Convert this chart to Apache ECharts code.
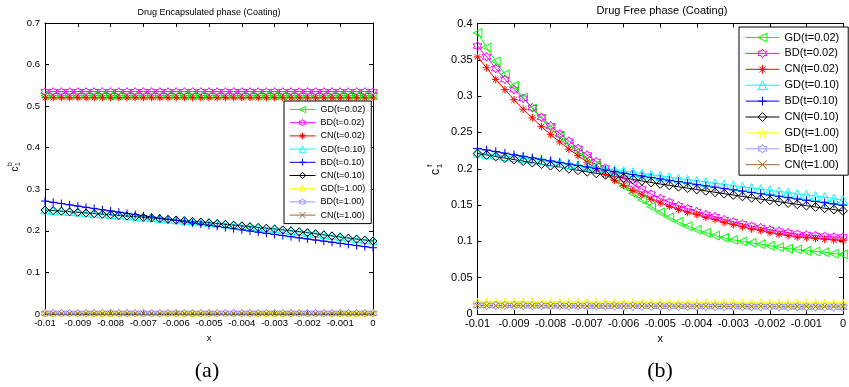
<!DOCTYPE html>
<html><head><meta charset="utf-8">
<script src="https://cdn.jsdelivr.net/npm/echarts@6/dist/echarts.min.js"></script>
<style>html,body{margin:0;padding:0;background:#fff}#c{width:849px;height:387px}</style>
</head><body><div id="c"></div>
<script>
// ---------- data ----------
const xs = [-0.01,-0.00975,-0.0095,-0.00925,-0.009,-0.00875,-0.0085,-0.00825,-0.008,-0.00775,-0.0075,-0.00725,-0.007,-0.00675,-0.0065,-0.00625,-0.006,-0.00575,-0.0055,-0.00525,-0.005,-0.00475,-0.0045,-0.00425,-0.004,-0.00375,-0.0035,-0.00325,-0.003,-0.00275,-0.0025,-0.00225,-0.002,-0.00175,-0.0015,-0.00125,-0.001,-0.00075,-0.0005,-0.00025,0];
const seriesNames = ['GD(t=0.02)','BD(t=0.02)','CN(t=0.02)','GD(t=0.10)','BD(t=0.10)','CN(t=0.10)','GD(t=1.00)','BD(t=1.00)','CN(t=1.00)'];

// (a) Drug Encapsulated phase
const encGD002 = [0.525,0.525,0.525,0.525,0.525,0.525,0.525,0.525,0.525,0.525,0.525,0.525,0.525,0.525,0.525,0.525,0.525,0.525,0.525,0.525,0.525,0.525,0.525,0.525,0.525,0.525,0.525,0.525,0.525,0.525,0.525,0.525,0.525,0.525,0.525,0.525,0.525,0.525,0.525,0.525,0.525];
const encBD002 = [0.535,0.535,0.535,0.535,0.535,0.535,0.535,0.535,0.535,0.535,0.535,0.535,0.535,0.535,0.535,0.535,0.535,0.535,0.535,0.535,0.535,0.535,0.535,0.535,0.535,0.535,0.535,0.535,0.535,0.535,0.535,0.535,0.535,0.535,0.535,0.535,0.535,0.535,0.535,0.535,0.535];
const encCN002 = [0.52,0.52,0.52,0.52,0.52,0.52,0.52,0.52,0.52,0.52,0.52,0.52,0.52,0.52,0.52,0.52,0.52,0.52,0.52,0.52,0.52,0.52,0.52,0.52,0.52,0.52,0.52,0.52,0.52,0.52,0.52,0.52,0.52,0.52,0.52,0.52,0.52,0.52,0.52,0.52,0.52];
const encGD010 = [0.2505,0.2493,0.2479,0.2466,0.2452,0.2437,0.2422,0.2407,0.2392,0.2377,0.2362,0.2347,0.2332,0.2316,0.2300,0.2284,0.2268,0.2252,0.2236,0.2220,0.2203,0.2185,0.2166,0.2147,0.2128,0.2109,0.2090,0.2072,0.2053,0.2031,0.2009,0.1987,0.1964,0.1939,0.1913,0.1887,0.1861,0.1836,0.1812,0.1789,0.1765];
const encBD010 = [0.2716,0.2686,0.2657,0.2626,0.2597,0.2567,0.2538,0.2508,0.2479,0.2450,0.2421,0.2392,0.2363,0.2334,0.2305,0.2277,0.2248,0.2220,0.2191,0.2163,0.2135,0.2107,0.2079,0.2051,0.2024,0.1996,0.1969,0.1941,0.1914,0.1887,0.1860,0.1833,0.1806,0.1779,0.1752,0.1726,0.1699,0.1673,0.1646,0.1620,0.1594];
const encCN010 = [0.2500,0.2487,0.2473,0.2459,0.2445,0.2430,0.2415,0.2400,0.2385,0.2370,0.2355,0.2340,0.2325,0.2309,0.2293,0.2277,0.2260,0.2244,0.2228,0.2212,0.2195,0.2176,0.2158,0.2139,0.2120,0.2101,0.2082,0.2064,0.2045,0.2023,0.2000,0.1978,0.1955,0.1929,0.1903,0.1877,0.1850,0.1826,0.1802,0.1779,0.1755];
const encGD100 = [0.0025,0.0025,0.0025,0.0025,0.0025,0.0025,0.0025,0.0025,0.0025,0.0025,0.0025,0.0025,0.0025,0.0025,0.0025,0.0025,0.0025,0.0025,0.0025,0.0025,0.0025,0.0025,0.0025,0.0025,0.0025,0.0025,0.0025,0.0025,0.0025,0.0025,0.0025,0.0025,0.0025,0.0025,0.0025,0.0025,0.0025,0.0025,0.0025,0.0025,0.0025];
const encBD100 = [0.002,0.002,0.002,0.002,0.002,0.002,0.002,0.002,0.002,0.002,0.002,0.002,0.002,0.002,0.002,0.002,0.002,0.002,0.002,0.002,0.002,0.002,0.002,0.002,0.002,0.002,0.002,0.002,0.002,0.002,0.002,0.002,0.002,0.002,0.002,0.002,0.002,0.002,0.002,0.002,0.002];
const encCN100 = [0.0015,0.0015,0.0015,0.0015,0.0015,0.0015,0.0015,0.0015,0.0015,0.0015,0.0015,0.0015,0.0015,0.0015,0.0015,0.0015,0.0015,0.0015,0.0015,0.0015,0.0015,0.0015,0.0015,0.0015,0.0015,0.0015,0.0015,0.0015,0.0015,0.0015,0.0015,0.0015,0.0015,0.0015,0.0015,0.0015,0.0015,0.0015,0.0015,0.0015,0.0015];

// (b) Drug Free phase
const freeGD002 = [0.387,0.367,0.348,0.330,0.314,0.298,0.283,0.269,0.256,0.245,0.234,0.224,0.215,0.205,0.195,0.185,0.176,0.166,0.157,0.148,0.140,0.133,0.127,0.121,0.116,0.112,0.108,0.105,0.102,0.100,0.098,0.096,0.094,0.092,0.090,0.089,0.087,0.086,0.085,0.083,0.082];
const freeBD002 = [0.369,0.354,0.338,0.323,0.309,0.297,0.284,0.271,0.259,0.248,0.238,0.228,0.219,0.210,0.201,0.193,0.186,0.179,0.172,0.165,0.159,0.154,0.149,0.145,0.141,0.137,0.134,0.130,0.127,0.124,0.121,0.119,0.116,0.114,0.112,0.110,0.109,0.108,0.107,0.106,0.106];
const freeCN002 = [0.354,0.339,0.323,0.309,0.295,0.282,0.270,0.258,0.247,0.237,0.227,0.218,0.209,0.200,0.192,0.184,0.177,0.170,0.164,0.158,0.153,0.148,0.144,0.140,0.137,0.133,0.130,0.126,0.123,0.120,0.117,0.115,0.112,0.110,0.108,0.106,0.105,0.104,0.103,0.102,0.101];
const freeGD010 = [0.2220,0.2205,0.2190,0.2175,0.2160,0.2145,0.2129,0.2113,0.2097,0.2081,0.2065,0.2049,0.2033,0.2017,0.2001,0.1985,0.1969,0.1952,0.1935,0.1918,0.1901,0.1884,0.1867,0.1850,0.1833,0.1816,0.1800,0.1784,0.1768,0.1752,0.1736,0.1720,0.1704,0.1688,0.1672,0.1656,0.1640,0.1624,0.1608,0.1589,0.1570];
const freeBD010 = [0.2280,0.2258,0.2236,0.2214,0.2192,0.2171,0.2150,0.2129,0.2108,0.2087,0.2066,0.2045,0.2024,0.2003,0.1982,0.1961,0.1940,0.1920,0.1900,0.1880,0.1860,0.1841,0.1822,0.1803,0.1784,0.1765,0.1746,0.1728,0.1710,0.1692,0.1674,0.1656,0.1638,0.1620,0.1602,0.1584,0.1566,0.1549,0.1532,0.1515,0.1498];
const freeCN010 = [0.2210,0.2189,0.2168,0.2147,0.2126,0.2105,0.2084,0.2063,0.2042,0.2021,0.2000,0.1979,0.1958,0.1937,0.1916,0.1895,0.1874,0.1853,0.1832,0.1811,0.1790,0.1771,0.1752,0.1733,0.1714,0.1695,0.1676,0.1657,0.1638,0.1619,0.1600,0.1582,0.1564,0.1546,0.1528,0.1510,0.1492,0.1474,0.1456,0.1438,0.1420];
const freeGD100 = [0.0160,0.0160,0.0159,0.0159,0.0158,0.0158,0.0157,0.0157,0.0156,0.0156,0.0155,0.0155,0.0155,0.0154,0.0154,0.0154,0.0153,0.0153,0.0153,0.0152,0.0152,0.0152,0.0151,0.0151,0.0151,0.0150,0.0150,0.0150,0.0150,0.0149,0.0149,0.0149,0.0149,0.0148,0.0148,0.0148,0.0148,0.0148,0.0147,0.0147,0.0147];
const freeBD100 = [0.0120,0.0119,0.0118,0.0118,0.0117,0.0116,0.0115,0.0115,0.0114,0.0113,0.0112,0.0112,0.0111,0.0110,0.0110,0.0109,0.0108,0.0108,0.0107,0.0106,0.0106,0.0105,0.0104,0.0104,0.0103,0.0103,0.0102,0.0101,0.0101,0.0100,0.0100,0.0099,0.0098,0.0098,0.0097,0.0097,0.0096,0.0096,0.0095,0.0095,0.0094];
const freeCN100 = [0.0115,0.0115,0.0114,0.0114,0.0114,0.0113,0.0113,0.0113,0.0112,0.0112,0.0112,0.0111,0.0111,0.0111,0.0110,0.0110,0.0110,0.0110,0.0109,0.0109,0.0109,0.0108,0.0108,0.0108,0.0108,0.0107,0.0107,0.0107,0.0107,0.0106,0.0106,0.0106,0.0106,0.0105,0.0105,0.0105,0.0105,0.0105,0.0104,0.0104,0.0104];

const encValues  = [encGD002, encBD002, encCN002, encGD010, encBD010, encCN010, encGD100, encBD100, encCN100];
const freeValues = [freeGD002, freeBD002, freeCN002, freeGD010, freeBD010, freeCN010, freeGD100, freeBD100, freeCN100];

// ---------- styles ----------
const FONT = 'Liberation Sans, Arial, sans-serif';
const HEX  = 'path://M0,-10L2.887,-5L8.66,-5L5.774,0L8.66,5L2.887,5L0,10L-2.887,5L-8.66,5L-5.774,0L-8.66,-5L-2.887,-5Z';
const PENT = 'path://M0,-10L2.245,-3.09L9.511,-3.09L3.633,1.18L5.878,8.09L0,3.82L-5.878,8.09L-3.633,1.18L-9.511,-3.09L-2.245,-3.09Z';
const AST  = 'path://M0,-10L0,10M-10,0L10,0M-7.07,-7.07L7.07,7.07M-7.07,7.07L7.07,-7.07';
const PLUS = 'path://M0,-10L0,10M-10,0L10,0';
const XS   = 'path://M-10,-10L10,10M-10,10L10,-10';
const styles = [
  {c:'#00ff00', sym:'triangle', rot:90, hollow:true,  size:8},
  {c:'#ff00ff', sym:HEX,  hollow:true,  size:8},
  {c:'#ff0000', sym:AST,  hollow:false, size:7},
  {c:'#00ffff', sym:'triangle', hollow:true, size:8},
  {c:'#0000ff', sym:PLUS, hollow:false, size:8},
  {c:'#000000', sym:'diamond', hollow:true, size:8},
  {c:'#ffff00', sym:PENT, hollow:true,  size:8},
  {c:'#9999ff', sym:HEX,  hollow:true,  size:8},
  {c:'#996633', sym:XS,   hollow:false, size:5}
];
const fillOf = st => st.hollow ? 'rgba(0,0,0,0)' : st.c;

function pairs(vals){ return xs.map((x,i)=>[x, vals[i]]); }
const fmt = v => String(Math.round(v*1e6)/1e6);

function mkSeries(vals, axisIdx, scale){
  return vals.map((v,k)=>{
    const st = styles[k];
    return {
      type:'line', name: seriesNames[k], xAxisIndex: axisIdx, yAxisIndex: axisIdx,
      data: pairs(v), symbol: st.sym, symbolSize: st.size*scale, symbolRotate: st.rot||0,
      showAllSymbol: true, animation:false, silent:true,
      lineStyle:{color: st.c, width: 1},
      itemStyle:{color: fillOf(st), borderColor: st.c, borderWidth: 1},
      emphasis:{disabled:true}
    };
  });
}
const legendData = seriesNames.map((n,k)=>({
  name:n,
  itemStyle:{color: fillOf(styles[k]), borderColor: styles[k].c, borderWidth:1},
  lineStyle:{color: styles[k].c, width:1}
}));

function xAxis(grid, pos, fs, withName, gap){
  return {
    type:'value', gridIndex: grid, position: pos, min:-0.01, max:0, interval:0.001,
    name: withName ? 'x' : '', nameLocation:'middle', nameGap: gap,
    nameTextStyle:{fontSize: fs, color:'#000', fontFamily: FONT},
    axisLine:{show:true, onZero:false, lineStyle:{color:'#000', width:1}},
    axisTick:{show:true, inside:true, length:4, lineStyle:{color:'#000'}},
    splitLine:{show:false},
    axisLabel:{show: pos==='bottom', fontSize: fs, color:'#000', margin:4, fontFamily: FONT, formatter: fmt}
  };
}
function yAxis(grid, pos, fs, max, interval){
  return {
    type:'value', gridIndex: grid, position: pos, min:0, max: max, interval: interval,
    axisLine:{show:true, onZero:false, lineStyle:{color:'#000', width:1}},
    axisTick:{show:true, inside:true, length:4, lineStyle:{color:'#000'}},
    splitLine:{show:false},
    axisLabel:{show: pos==='left', fontSize: fs, color:'#000', margin:5, fontFamily: FONT, formatter: fmt}
  };
}

const chart = echarts.init(document.getElementById('c'), null, {renderer:'canvas'});
const txt = (x,y,text,fs,fam,extra) => Object.assign({type:'text', x:x, y:y, silent:true,
  style:{text:text, fontSize:fs, fontFamily:fam||FONT, fill:'#000', align:'center', verticalAlign:'middle', textAlign:'center', textVerticalAlign:'middle'}}, extra||{});

const legendCommon = {
  data: legendData, orient:'vertical', selectedMode:false,
  backgroundColor:'#fff', borderColor:'#000', borderWidth:1, borderRadius:0,
  lineStyle:{width:1}, itemStyle:{borderWidth:1}
};

chart.setOption({
  animation:false,
  backgroundColor:'#fff',
  textStyle:{fontFamily: FONT},
  grid:[
    {left:45, top:23, width:328, height:291},
    {left:477.5, top:23.5, width:369.5, height:290.5}
  ],
  xAxis:[ xAxis(0,'bottom',9.5,true,14.5), xAxis(0,'top',9.5,false,0),
          xAxis(1,'bottom',11,true,19), xAxis(1,'top',11,false,0) ],
  yAxis:[ yAxis(0,'left',9.5,0.7,0.1), yAxis(0,'right',9.5,0.7,0.1),
          yAxis(1,'left',11,0.4,0.05), yAxis(1,'right',11,0.4,0.05) ],
  legend:[
    Object.assign({}, legendCommon, {left:284, top:101, padding:[4,6,4,5],
      itemWidth:26, itemHeight:8, itemGap:4.2,
      textStyle:{fontSize:9, color:'#000', fontFamily: FONT}}),
    Object.assign({}, legendCommon, {left:739, top:27, padding:[5,9,5,6],
      itemWidth:34, itemHeight:11, itemGap:4.9,
      textStyle:{fontSize:11, color:'#000', fontFamily: FONT}})
  ],
  graphic:[
    txt(209,13,'Drug Encapsulated phase (Coating)',9),
    txt(662,11,'Drug Free phase (Coating)',11),
    txt(207,371,'(a)',22,'Liberation Serif, Times New Roman, serif'),
    txt(660,371,'(b)',22,'Liberation Serif, Times New Roman, serif'),
    {type:'group', x:15, y:169, rotation:Math.PI/2, silent:true, children:[
      txt(0,0,'c',10), txt(5,-5,'b',7), txt(5,3,'1',7)
    ]},
    {type:'group', x:436, y:172, rotation:Math.PI/2, silent:true, children:[
      txt(0,0,'c',12), txt(6,-6,'f',8), txt(6,4,'1',8)
    ]}
  ],
  series: mkSeries(encValues,0,1).concat(mkSeries(freeValues,2,1.1))
});
</script>
</body></html>
